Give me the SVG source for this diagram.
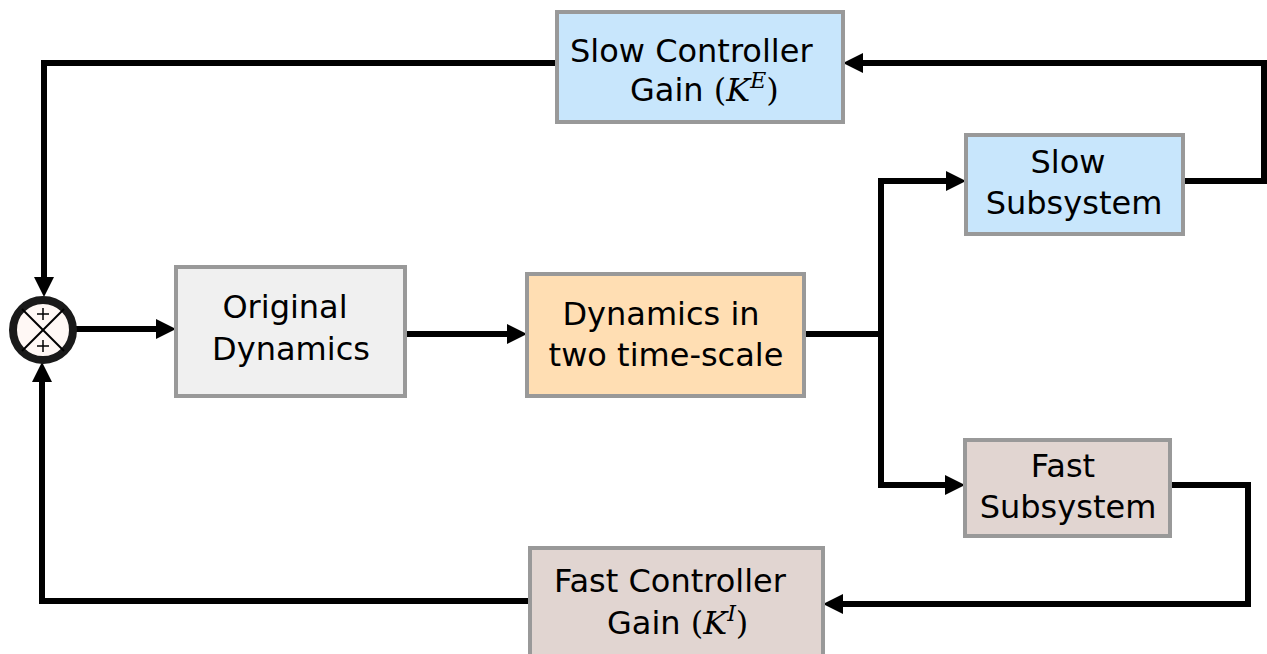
<svg xmlns="http://www.w3.org/2000/svg" width="1267" height="654" viewBox="0 0 1267 654">
<style>
.box{stroke:#999999;stroke-width:4}
.t{font-family:"DejaVu Sans",sans-serif;font-size:32px;fill:#000000}
.m{font-family:"DejaVu Serif","Liberation Serif",serif;font-size:32px}
.mi{font-family:"DejaVu Serif","Liberation Serif",serif;font-style:italic}
.c{fill:none;stroke:#000000;stroke-width:6;stroke-linejoin:miter}
</style>
<defs>
<marker id="ah" viewBox="0 0 10 10" markerWidth="20" markerHeight="20" markerUnits="userSpaceOnUse" refX="2" refY="5" orient="auto">
<path d="M0,0 L10,5 L0,10 Z" fill="#000000"/>
</marker>
</defs>
<rect width="1267" height="654" fill="#ffffff"/>
<g id="connectors">
<path class="c" d="M557,63 H44 V281" marker-end="url(#ah)"/>
<path class="c" d="M1183,181 H1264 V63 H859" marker-end="url(#ah)"/>
<path class="c" d="M73,329 H160" marker-end="url(#ah)"/>
<path class="c" d="M405,334 H511" marker-end="url(#ah)"/>
<path class="c" d="M804,334 H881 V181 H950" marker-end="url(#ah)"/>
<path class="c" d="M881,334 V485 H949" marker-end="url(#ah)"/>
<path class="c" d="M1170,485 H1248 V604 H839" marker-end="url(#ah)"/>
<path class="c" d="M530,601 H42 V378" marker-end="url(#ah)"/>
</g>
<g id="sum">
<circle cx="43" cy="330" r="30" fill="#fff8f5" stroke="#1a1a1a" stroke-width="8"/>
<line x1="22" y1="309" x2="64" y2="351" stroke="#000" stroke-width="2"/>
<line x1="64" y1="309" x2="22" y2="351" stroke="#000" stroke-width="2"/>
<path d="M37,314 H49 M43,308 V320 M37,346 H49 M43,340 V352" stroke="#000" stroke-width="1.5"/>
</g>
<g id="slow-controller">
<rect class="box" x="557" y="12" width="286" height="110" fill="#c8e6fc"/>
<text class="t" x="570" y="62">Slow Controller</text>
<text class="t" x="630" y="101">Gain <tspan class="m">(</tspan><tspan class="m mi">K</tspan><tspan class="mi" font-size="22" dy="-13">E</tspan><tspan class="m" dy="13">)</tspan></text>
</g>
<g id="slow-subsystem">
<rect class="box" x="966" y="135" width="217" height="99" fill="#c8e6fc"/>
<text class="t" x="1068" y="173" text-anchor="middle">Slow</text>
<text class="t" x="1074" y="214" text-anchor="middle">Subsystem</text>
</g>
<g id="original-dynamics">
<rect class="box" x="176" y="267" width="229" height="129" fill="#f0f0f0"/>
<text class="t" x="285" y="318" text-anchor="middle">Original</text>
<text class="t" x="291" y="360" text-anchor="middle">Dynamics</text>
</g>
<g id="two-time-scale">
<rect class="box" x="527" y="274" width="277" height="122" fill="#ffdeb3"/>
<text class="t" x="661" y="325" text-anchor="middle">Dynamics in</text>
<text class="t" x="666" y="366" text-anchor="middle">two time-scale</text>
</g>
<g id="fast-subsystem">
<rect class="box" x="965" y="440" width="205" height="96" fill="#e1d5d1"/>
<text class="t" x="1063" y="477" text-anchor="middle">Fast</text>
<text class="t" x="1068" y="518" text-anchor="middle">Subsystem</text>
</g>
<g id="fast-controller">
<rect class="box" x="530" y="548" width="293" height="110" fill="#e1d5d1"/>
<text class="t" x="554" y="592">Fast Controller</text>
<text class="t" x="607" y="634">Gain <tspan class="m">(</tspan><tspan class="m mi">K</tspan><tspan class="mi" font-size="22" dy="-13">I</tspan><tspan class="m" dy="13">)</tspan></text>
</g>
</svg>
